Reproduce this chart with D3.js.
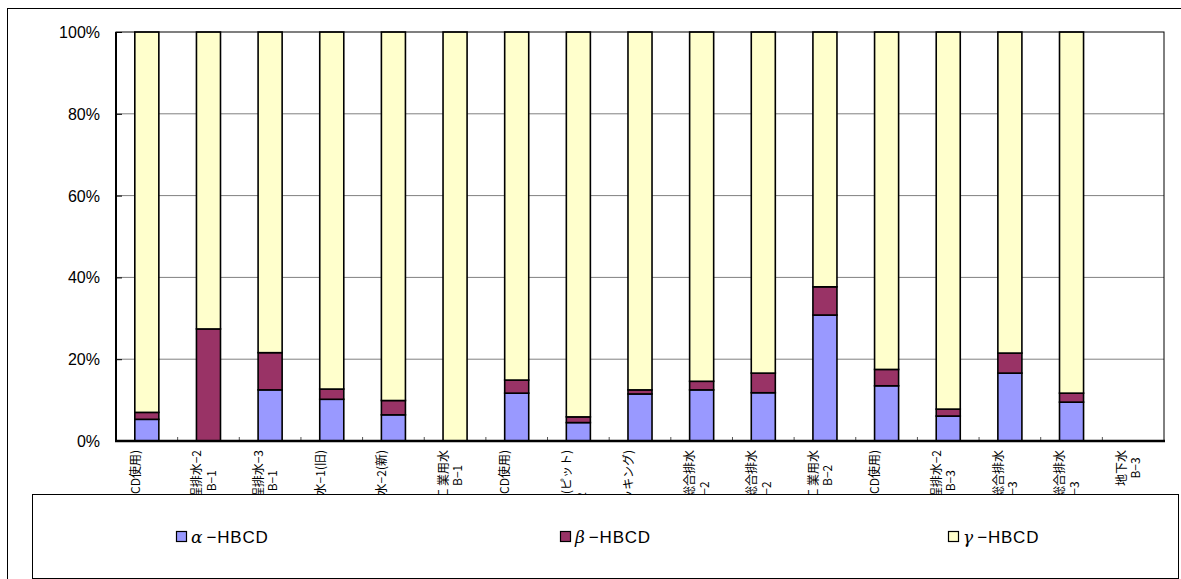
<!DOCTYPE html>
<html>
<head>
<meta charset="utf-8">
<script src="https://cdn.jsdelivr.net/npm/d3@7"></script>
<style>
  body { margin: 0; background: #fff; }
  svg { display: block; }
</style>
</head>
<body>
<div id="vis"></div>
<script>
///////data/////////////////////////////////////////////////
const categories = [
  ["工程排水−1(HBCD使用)", "B−1"],
  ["工程排水−2", "B−1"],
  ["工程排水−3", "B−1"],
  ["処理後総合排水−1(旧)", "B−1"],
  ["処理後総合排水−2(新)", "B−1"],
  ["工 業用水", "B−1"],
  ["工程排水−1(HBCD使用)", "B−2"],
  ["工程排水−2(ピット)", "B−2"],
  ["工程排水−3(パッキング)", "B−2"],
  ["処理前総合排水", "B−2"],
  ["処理後総合排水", "B−2"],
  ["工 業用水", "B−2"],
  ["工程排水−1(HBCD使用)", "B−3"],
  ["工程排水−2", "B−3"],
  ["処理前総合排水", "B−3"],
  ["処理後総合排水", "B−3"],
  ["地下水", "B−3"]
]
const alphaVals = [5.3, 0, 12.5, 10.2, 6.4, 0, 11.7, 4.5, 11.5, 12.5, 11.8, 30.8, 13.5, 6.1, 16.6, 9.5, 0]
const betaVals  = [1.7, 27.4, 9.1, 2.5, 3.5, 0, 3.2, 1.4, 1.0, 2.1, 4.8, 6.9, 4.0, 1.7, 4.9, 2.2, 0]
const gammaVals = [93.0, 72.6, 78.4, 87.3, 90.1, 100, 85.1, 94.1, 87.5, 85.4, 83.4, 62.3, 82.5, 92.2, 78.5, 88.3, 0]
const greekNames = ["α", "β", "γ"]
const seriesSuffix = "−HBCD"
const seriesColors = ["#9999FF", "#993366", "#FFFFCC"]
const yTicks = [0, 20, 40, 60, 80, 100]

///////setting up/////////////////////////////////////////////
var width = 1181
var height = 579
var plot = {left: 116, right: 1164, top: 32, bottom: 441}

const svg = d3.select("#vis")
  .append("svg")
  .attr("width", width)
  .attr("height", height)
  .attr("font-family", "'Liberation Sans', Arial, sans-serif")

// outer chart frame
svg.append("rect")
  .attr("x", 7.5).attr("y", 8.5)
  .attr("width", 1200).attr("height", 600)
  .attr("fill", "#fff").attr("stroke", "#000").attr("stroke-width", 1)

const x = d3.scaleBand()
  .domain(d3.range(categories.length))
  .range([plot.left, plot.right])
  .padding(0)

const y = d3.scaleLinear()
  .domain([0, 100])
  .range([plot.bottom, plot.top])

////////gridlines + y axis///////////////////////////////////
svg.append("g")
  .selectAll("line")
  .data(yTicks.filter(t => t > 0 && t < 100))
  .join("line")
  .attr("x1", plot.left).attr("x2", plot.right)
  .attr("y1", d => y(d)).attr("y2", d => y(d))
  .attr("stroke", "#808080").attr("stroke-width", 1)

const yAxis = svg.append("g")
  .attr("transform", `translate(${plot.left},0)`)
  .call(d3.axisRight(y).tickValues(yTicks).tickSize(6).tickFormat(""))
yAxis.select(".domain").remove()
yAxis.selectAll("line").attr("stroke", "#000")

svg.append("g")
  .selectAll("text")
  .data(yTicks)
  .join("text")
  .attr("x", 100)
  .attr("y", d => y(d) + 6)
  .attr("text-anchor", "end")
  .attr("font-size", 16)
  .attr("fill", "#000")
  .text(d => d + "%")

// small ticks on the category axis
svg.append("g")
  .selectAll("line")
  .data(d3.range(1, categories.length))
  .join("line")
  .attr("x1", d => plot.left + d * x.step()).attr("x2", d => plot.left + d * x.step())
  .attr("y1", plot.bottom).attr("y2", plot.bottom - 4)
  .attr("stroke", "#555").attr("stroke-width", 1)

////////stacked bars/////////////////////////////////////////
const rows = categories.map((c, i) => ({i: i, a: alphaVals[i], b: betaVals[i], g: gammaVals[i]}))
const stack = d3.stack().keys(["a", "b", "g"])
const layers = stack(rows)
const barW = x.bandwidth() * 0.39

svg.append("g")
  .selectAll("g")
  .data(layers)
  .join("g")
  .attr("fill", (d, k) => seriesColors[k])
  .selectAll("rect")
  .data(d => d.filter(p => p[1] - p[0] > 0))
  .join("rect")
  .attr("x", p => x(p.data.i) + (x.bandwidth() - barW) / 2)
  .attr("width", barW)
  .attr("y", p => y(p[1]))
  .attr("height", p => y(p[0]) - y(p[1]))
  .attr("stroke", "#000")
  .attr("stroke-width", 1.6)

// plot frame
svg.append("rect")
  .attr("x", plot.left).attr("y", plot.top)
  .attr("width", plot.right - plot.left).attr("height", plot.bottom - plot.top)
  .attr("fill", "none").attr("stroke", "#000").attr("stroke-width", 1)
svg.append("line")
  .attr("x1", plot.left).attr("x2", plot.left)
  .attr("y1", plot.top).attr("y2", plot.bottom)
  .attr("stroke", "#000").attr("stroke-width", 2)
svg.append("line")
  .attr("x1", plot.left - 1).attr("x2", plot.right + 1)
  .attr("y1", plot.bottom).attr("y2", plot.bottom)
  .attr("stroke", "#000").attr("stroke-width", 2.5)

////////category labels (rotated, clipped by legend)//////////
svg.append("clipPath").attr("id", "labclip")
  .append("rect").attr("x", 0).attr("y", 444).attr("width", width).attr("height", 50)

const labG = svg.append("g").attr("clip-path", "url(#labclip)")
const lineGap = 14.5
categories.forEach(function(lines, i) {
  const cx = x(i) + x.bandwidth() / 2
  const g = labG.append("g")
  const texts = lines.map(function(t, k) {
    return g.append("text")
      .attr("font-family", "'Noto Sans CJK JP', sans-serif")
      .attr("font-size", 12)
      .attr("text-anchor", "middle")
      .attr("fill", "#000")
      .text(t)
  })
  const maxLen = d3.max(texts, t => t.node().getComputedTextLength())
  const cy = 450 + maxLen / 2
  texts.forEach(function(t, k) {
    const lx = cx + (k - (lines.length - 1) / 2) * lineGap
    t.attr("transform", `translate(${lx},${cy}) rotate(-90)`)
  })
})

////////legend////////////////////////////////////////////////
svg.append("rect")
  .attr("x", 32.5).attr("y", 494.5)
  .attr("width", 1146).attr("height", 84)
  .attr("fill", "#fff").attr("stroke", "#000").attr("stroke-width", 1)

const legX = [176, 560, 948]
const leg = svg.append("g")
  .selectAll("g")
  .data(greekNames)
  .join("g")
  .attr("transform", (d, k) => `translate(${legX[k]},537)`)
leg.append("rect")
  .attr("x", 0.5).attr("y", -5.5)
  .attr("width", 10).attr("height", 10)
  .attr("fill", (d, k) => seriesColors[k])
  .attr("stroke", "#000").attr("stroke-width", 1.2)
const legText = leg.append("text")
  .attr("x", 15)
  .attr("y", 6)
  .attr("font-size", 17)
  .attr("fill", "#000")
legText.append("tspan")
  .attr("font-family", "'DejaVu Serif', serif")
  .attr("font-style", "italic")
  .attr("font-size", 17)
  .text(d => d)
legText.append("tspan")
  .attr("dx", 4)
  .attr("letter-spacing", 0.8)
  .text(seriesSuffix)
</script>
</body>
</html>
